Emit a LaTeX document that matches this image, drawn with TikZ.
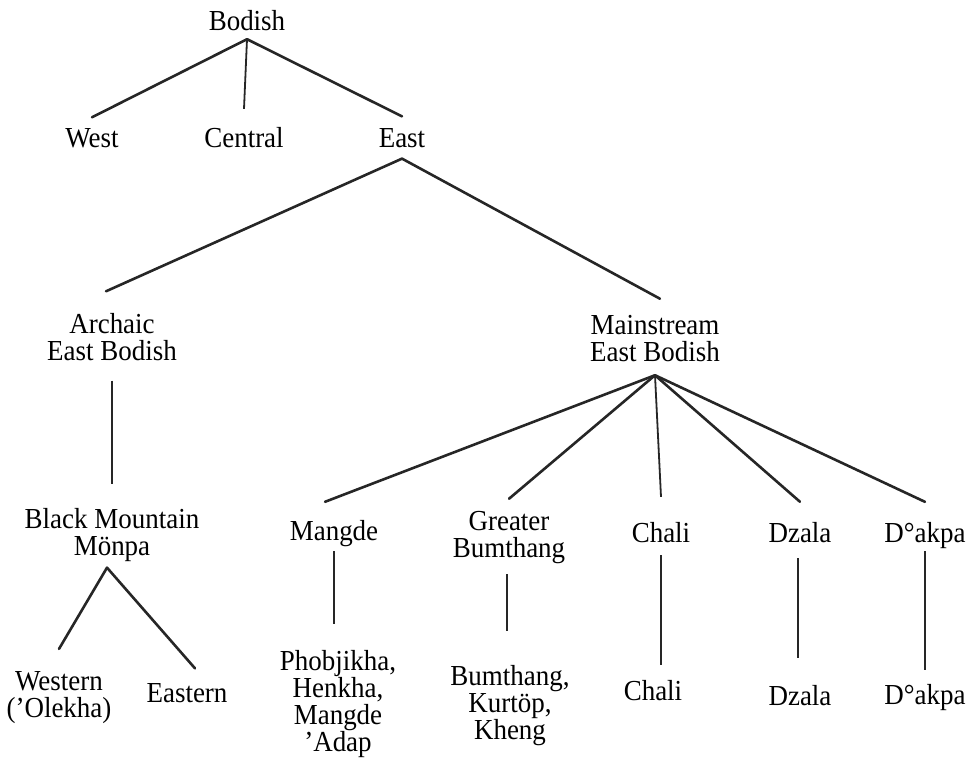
\documentclass[tikz,border=0pt]{standalone}
\usepackage{fontspec}
\setmainfont{Liberation Serif}[FakeStretch=0.93]
\usetikzlibrary{positioning,calc}
\tikzset{
  lang/.style  ={inner sep=0pt,outer sep=0pt,align=center,
                 font=\fontsize{29}{27}\selectfont},
  branch/.style={line width=2.6pt,draw=black!85,line cap=round},
  stem/.style  ={line width=1.8pt,draw=black!85}
}

\begin{document}
\begin{tikzpicture}[x=1pt,y=-1pt]
\useasboundingbox (0,0) rectangle (977,762);

% top level
\node[lang] (bodish)  at (247,21)  {Bodish};
\node[lang] (west)    at (92,138)  {West};
\node[lang] (central) at (244,138) {Central};
\node[lang] (east)    at (402,138) {East};

\node[lang] (aeb) at (112,337) {Archaic\\East Bodish};
\node[lang] (meb) at (655,339) {Mainstream\\East Bodish};

% third level
\node[lang] (bmm)    at (112,535) {Black Mountain\\Mönpa};
\node[lang] (mangde) at (334,534) {Mangde};
\node[lang] (gbum)   at (509,538) {Greater\\Bumthang};
\node[lang] (chali)  at (661,533) {Chali};
\node[lang] (dzala)  at (800,533) {Dzala};
\node[lang] (dakpa)  at (925,536) {D°akpa};

% varieties
\node[lang] (western) at (59,698)  {Western\\('Olekha)};
\node[lang] (eastern) at (187,693) {Eastern};
\node[lang] (phob)    at (338,704) {Phobjikha,\\Henkha,\\Mangde\\'Adap};
\node[lang] (bkk)     at (510,706) {Bumthang,\\Kurtöp,\\Kheng};
\node[lang] (chali2)  at (653,691) {Chali};
\node[lang] (dzala2)  at (800,696) {Dzala};
\node[lang] (dakpa2)  at (925,698) {D°akpa};


\draw[branch] ([yshift=-8pt]bodish.south) -- ([yshift=11pt]west.north);
\draw[stem]   ([yshift=-8pt]bodish.south) -- ([yshift=19pt]central.north);
\draw[branch] ([yshift=-8pt]bodish.south) -- ([yshift=12pt]east.north);

\draw[branch] ([yshift=-11pt]east.south) -- ([xshift=-6pt,yshift=22pt]aeb.north);
\draw[branch] ([yshift=-11pt]east.south) -- ([xshift=5pt,yshift=17pt]meb.north);

\draw[stem] ([yshift=-20pt]aeb.south) -- ([yshift=24pt]bmm.north);

\draw[branch] ([yshift=-13pt]meb.south) -- ([xshift=-9pt,yshift=19pt]mangde.north);
\draw[branch] ([yshift=-13pt]meb.south) -- ([yshift=13pt]gbum.north);
\draw[stem]   ([yshift=-13pt]meb.south) -- ([yshift=26pt]chali.north);
\draw[branch] ([yshift=-13pt]meb.south) -- ([yshift=21pt]dzala.north);
\draw[branch] ([yshift=-13pt]meb.south) -- ([yshift=21pt]dakpa.north);

\draw[branch] ([xshift=-5pt,yshift=-6pt]bmm.south) -- ([yshift=23pt]western.north);
\draw[branch] ([xshift=-5pt,yshift=-6pt]bmm.south) -- ([xshift=8pt,yshift=15pt]eastern.north);

\draw[stem] ([yshift=-4pt]mangde.south) -- ([yshift=26pt]mangde.south |- phob.north);
\draw[stem] ([xshift=-2pt,yshift=-10pt]gbum.south) -- ([xshift=-3pt,yshift=35pt]bkk.north);
\draw[stem] ([yshift=-12pt]chali.south) -- ([yshift=16pt]chali.south |- chali2.north);
\draw[stem] ([xshift=-2pt,yshift=-15pt]dzala.south) -- ([xshift=-2pt,yshift=28pt]dzala2.north);
\draw[stem] ([yshift=-2pt]dakpa.south) -- ([yshift=15pt]dakpa2.north);

\end{tikzpicture}
\end{document}
